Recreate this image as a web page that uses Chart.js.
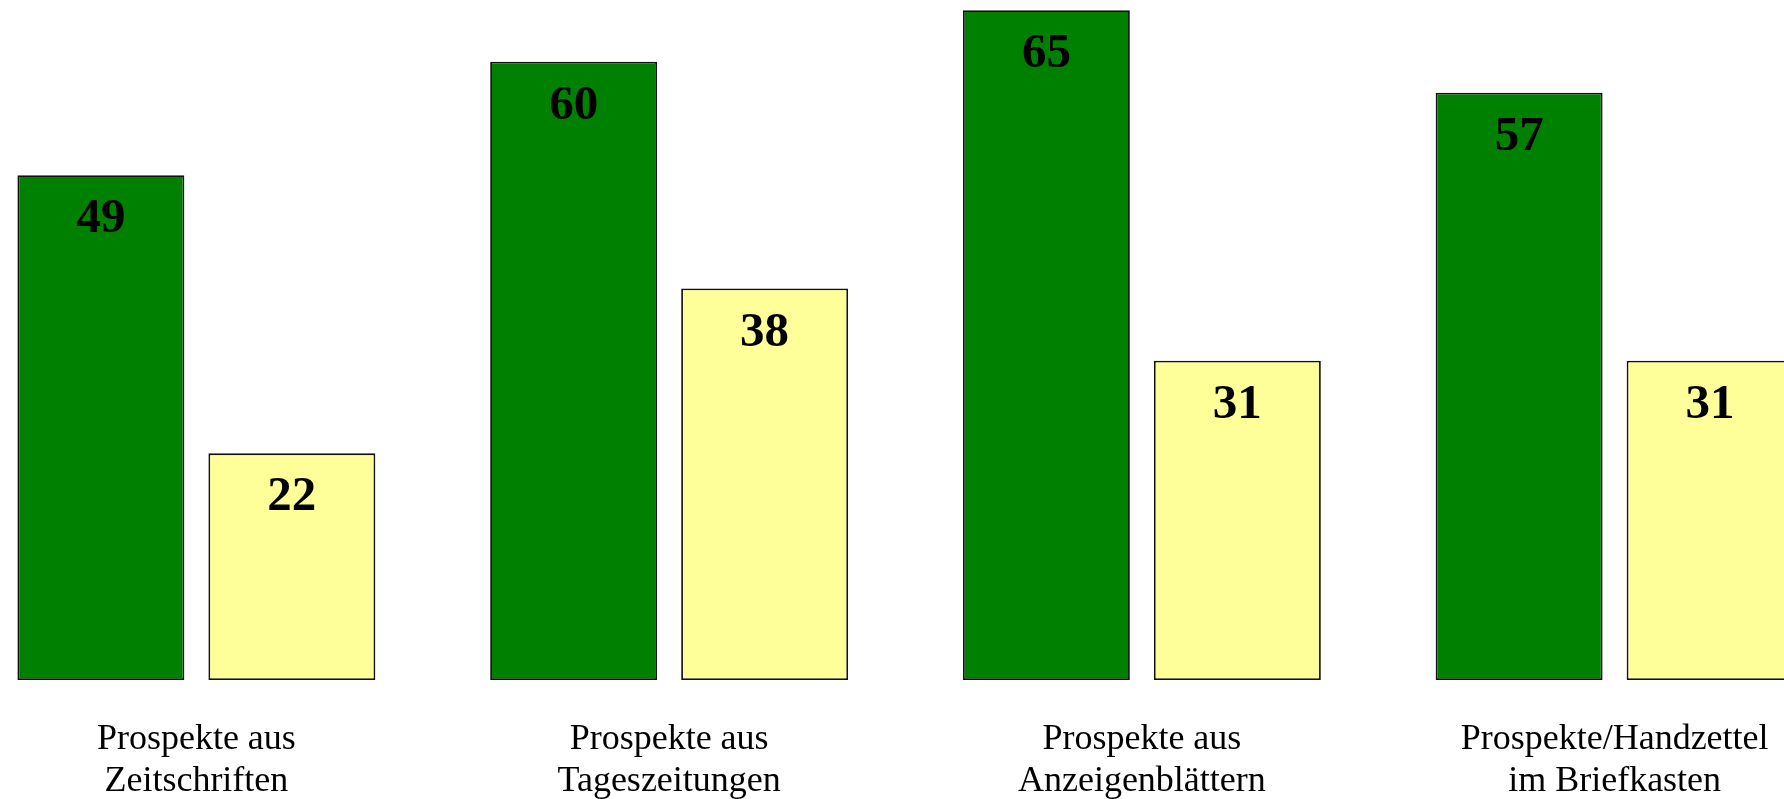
<!DOCTYPE html>
<html>
<head>
<meta charset="utf-8">
<script src="https://cdn.jsdelivr.net/npm/chart.js@4/dist/chart.umd.min.js"></script>
<style>
  html, body { margin: 0; padding: 0; background: #fff; overflow: hidden; }
  body { width: 1784px; height: 799px; position: relative; }
  #wrap { position: absolute; left: -40px; top: 0; width: 1891px; height: 833px; }
</style>
</head>
<body>
<div id="wrap"><canvas id="chart"></canvas></div>
<script>
// categories (two-line labels)
const categories = [
  ["Prospekte aus", "Zeitschriften"],
  ["Prospekte aus", "Tageszeitungen"],
  ["Prospekte aus", "Anzeigenblättern"],
  ["Prospekte/Handzettel", "im Briefkasten"]
];
const greenValues = [49, 60, 65, 57];
const yellowValues = [22, 38, 31, 31];

// value labels inside the top of each bar
const valueLabels = {
  id: "valueLabels",
  afterDatasetsDraw(chart) {
    const ctx = chart.ctx;
    ctx.save();
    ctx.font = "bold 49px 'Liberation Serif', 'Times New Roman', serif";
    ctx.fillStyle = "#000";
    ctx.textAlign = "center";
    ctx.textBaseline = "alphabetic";
    chart.data.datasets.forEach((ds, di) => {
      chart.getDatasetMeta(di).data.forEach((bar, i) => {
        ctx.fillText(String(ds.data[i]), bar.x, bar.y + 57);
      });
    });
    ctx.restore();
  }
};

new Chart(document.getElementById("chart"), {
  type: "bar",
  data: {
    labels: categories,
    datasets: [
      {
        data: greenValues,
        backgroundColor: "#008000",
        borderColor: "#111",
        borderWidth: 1.8,
        borderSkipped: false
      },
      {
        data: yellowValues,
        backgroundColor: "#FFFF99",
        borderColor: "#111",
        borderWidth: 1.8,
        borderSkipped: false
      }
    ]
  },
  options: {
    responsive: true,
    maintainAspectRatio: false,
    animation: false,
    categoryPercentage: 0.808,
    barPercentage: 0.874,
    layout: { padding: 0 },
    plugins: {
      legend: { display: false },
      tooltip: { enabled: false }
    },
    scales: {
      x: {
        grid: { display: false },
        border: { display: false },
        ticks: {
          color: "#000",
          padding: 30,
          maxRotation: 0,
          autoSkip: false,
          font: { family: "'Liberation Serif', 'Times New Roman', serif", size: 36, lineHeight: 1.18 }
        }
      },
      y: {
        display: false,
        min: 0,
        max: 66
      }
    }
  },
  plugins: [valueLabels]
});
</script>
</body>
</html>
